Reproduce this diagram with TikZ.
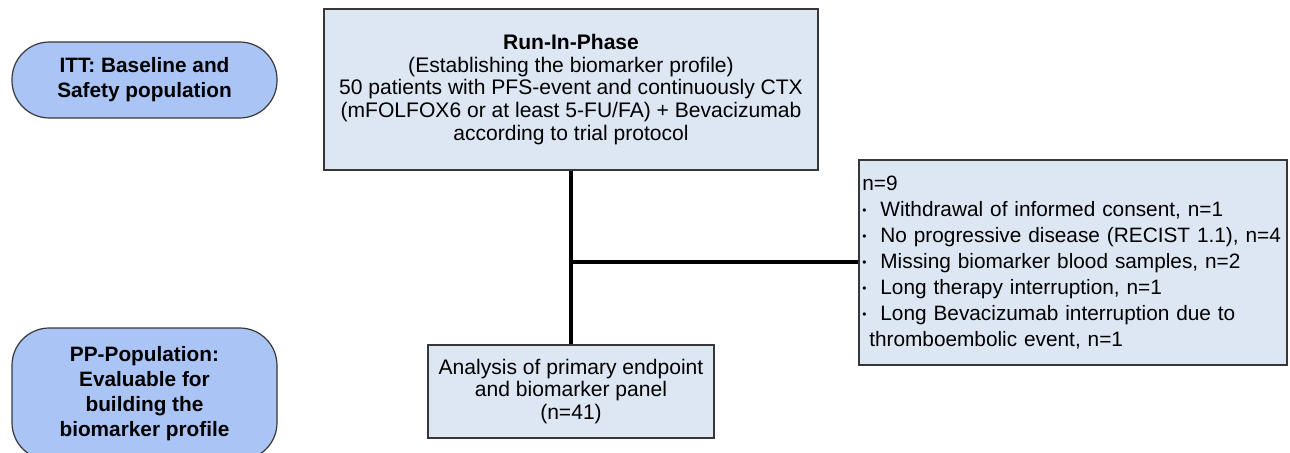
\documentclass[tikz,border=0pt]{standalone}
\usepackage{fontspec}
\setmainfont{Liberation Sans}
\usepackage{tikz}

\definecolor{popblue}{RGB}{170,196,246}
\definecolor{boxblue}{RGB}{221,231,243}
\definecolor{edgegray}{RGB}{55,55,55}

\begin{document}
\begin{tikzpicture}[x=0.75pt,y=-0.75pt]
				\tikzset{every node/.append style={inner sep=0pt, align=center},
					popnode/.style={draw=edgegray, line width=0.9pt, fill=popblue, rounded corners=28pt,
						minimum width=198.75pt, font=\fontsize{15.6}{18.75}\selectfont\bfseries},
					stepbox/.style={draw=edgegray, line width=0.9pt, fill=boxblue, font=\fontsize{15.8}{16.9}\selectfont},
					link/.style={line width=2.5pt, black}}
				\useasboundingbox (0,0) rectangle (1290,453);
				% population labels
				\node [popnode, minimum height=57pt] (itt) at (144.5,80) {ITT: Baseline and\\Safety population};
				\node [popnode, minimum height=99pt] (pp) at (144.5,394) {PP-Population:\\Evaluable for\\building the\\biomarker profile};
				% flow boxes
				\node [stepbox, minimum width=370.5pt, minimum height=120.75pt] (run) at (571,89.5)
					{\textbf{Run-In-Phase}\\(Establishing the biomarker profile)\\50 patients with PFS-event and continuously CTX\\(mFOLFOX6 or at least 5-FU/FA) + Bevacizumab\\according to trial protocol};
				\node [stepbox, minimum width=214.5pt, minimum height=69.75pt,
					font=\fontsize{15.8}{16.9}\selectfont] (ana) at (571,391.5)
					{Analysis of primary endpoint\\and biomarker panel\\(n=41)};
				\node [stepbox, minimum width=321pt, minimum height=153.75pt, align=left,
					font=\fontsize{15.6}{19.5}\selectfont, text width=316pt] (excl) at (1073,262.5)
					{n=9\\
					 {\small\raisebox{1.2pt}{•}}\ \ Withdrawal of informed consent, n=1\\
					 {\small\raisebox{1.2pt}{•}}\ \ No progressive disease (RECIST 1.1), n=4\\
					 {\small\raisebox{1.2pt}{•}}\ \ Missing biomarker blood samples, n=2\\
					 {\small\raisebox{1.2pt}{•}}\ \ Long therapy interruption, n=1\\
					 {\small\raisebox{1.2pt}{•}}\ \ Long Bevacizumab interruption due to\\
					 \ thromboembolic event, n=1};
				% connectors
				\coordinate (junc) at (571,262);
				\draw [link] (run.south) -- (ana.north);
				\draw [link] (junc) -- (excl.west |- junc);
\end{tikzpicture}
\end{document}
